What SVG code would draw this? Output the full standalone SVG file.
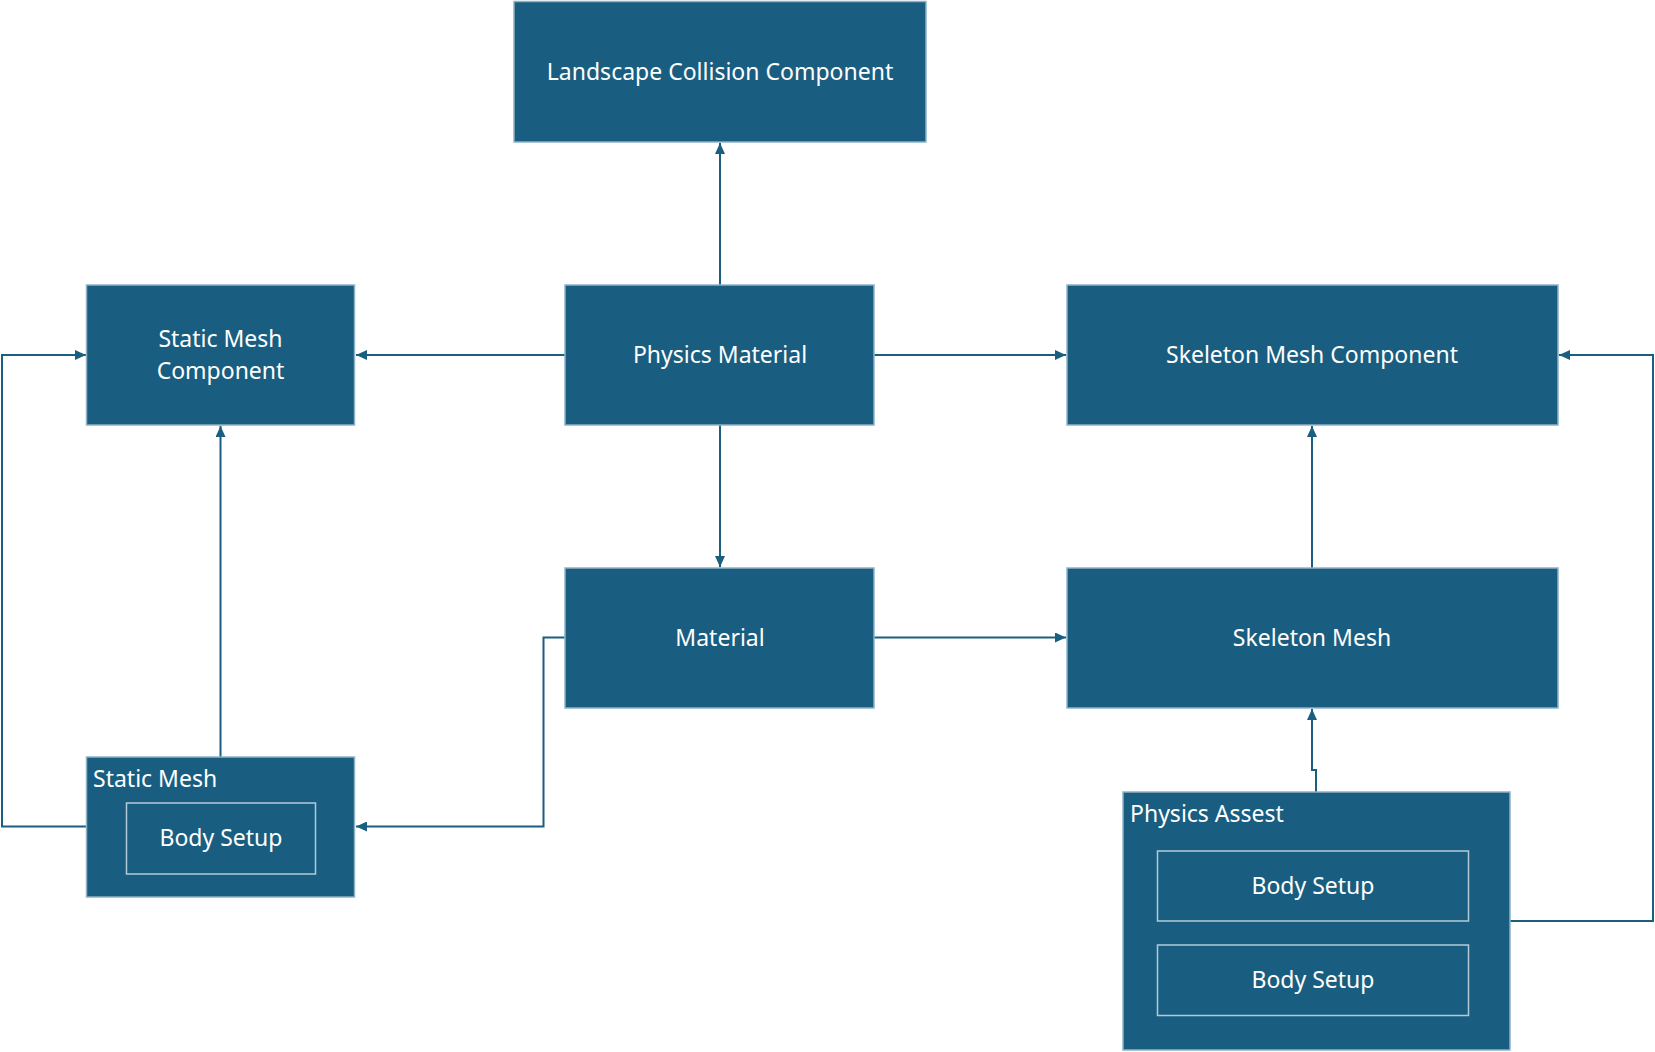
<svg xmlns="http://www.w3.org/2000/svg" width="1655" height="1052" viewBox="0 0 1655 1052">
  <style>
    .box { fill: #195E80; stroke: #8FB2C6; stroke-width: 1.5; }
    .inner { fill: none; stroke: #B3CBD8; stroke-width: 1.5; }
    .lbl { fill: #FFFFFF; font-family: "Noto Sans", "Open Sans", "Liberation Sans", sans-serif; font-size: 23px; text-anchor: middle; }
    .lbl-l { text-anchor: start; }
    .conn { fill: none; stroke: #1A5E80; stroke-width: 2; }
  </style>
  <defs>
    <marker id="arr" markerUnits="userSpaceOnUse" markerWidth="12" markerHeight="10" refX="11" refY="5" orient="auto">
      <path d="M0,0 L11,5 L0,10 z" fill="#1A5E80"/>
    </marker>
  </defs>
  <rect width="1655" height="1052" fill="#FFFFFF"/>

  <g id="connectors">
    <path class="conn" d="M720,285 V143" marker-end="url(#arr)"/>
    <path class="conn" d="M565,355 H356" marker-end="url(#arr)"/>
    <path class="conn" d="M874,355 H1066" marker-end="url(#arr)"/>
    <path class="conn" d="M720,425 V567" marker-end="url(#arr)"/>
    <path class="conn" d="M874,637.5 H1066" marker-end="url(#arr)"/>
    <path class="conn" d="M565,637.5 H543.5 V826.5 H356" marker-end="url(#arr)"/>
    <path class="conn" d="M220.5,757 V426" marker-end="url(#arr)"/>
    <path class="conn" d="M86.5,826.5 H2 V355 H86" marker-end="url(#arr)"/>
    <path class="conn" d="M1312,568 V426" marker-end="url(#arr)"/>
    <path class="conn" d="M1316,792 V770 H1312 V709" marker-end="url(#arr)"/>
    <path class="conn" d="M1510,921 H1653 V355 H1559" marker-end="url(#arr)"/>
  </g>

  <g id="landscape-collision-component">
    <rect class="box" x="514" y="1.5" width="412" height="140.5"/>
    <text class="lbl" x="720" y="80">Landscape Collision Component</text>
  </g>

  <g id="static-mesh-component">
    <rect class="box" x="86.5" y="285" width="268" height="140"/>
    <text class="lbl" x="220.5" y="347">Static Mesh</text>
    <text class="lbl" x="220.5" y="379">Component</text>
  </g>

  <g id="physics-material">
    <rect class="box" x="565" y="285" width="309" height="140"/>
    <text class="lbl" x="720" y="363">Physics Material</text>
  </g>

  <g id="skeleton-mesh-component">
    <rect class="box" x="1067" y="285" width="491" height="140"/>
    <text class="lbl" x="1312" y="363">Skeleton Mesh Component</text>
  </g>

  <g id="material">
    <rect class="box" x="565" y="568" width="309" height="140"/>
    <text class="lbl" x="720" y="646">Material</text>
  </g>

  <g id="skeleton-mesh">
    <rect class="box" x="1067" y="568" width="491" height="140"/>
    <text class="lbl" x="1312" y="646">Skeleton Mesh</text>
  </g>

  <g id="static-mesh">
    <rect class="box" x="86.5" y="757" width="268" height="140"/>
    <text class="lbl lbl-l" x="93" y="787">Static Mesh</text>
    <g id="static-mesh-body-setup">
      <rect class="inner" x="126.5" y="803" width="189" height="71"/>
      <text class="lbl" x="221" y="846">Body Setup</text>
    </g>
  </g>

  <g id="physics-assest">
    <rect class="box" x="1123" y="792" width="387" height="258"/>
    <text class="lbl lbl-l" x="1130" y="822">Physics Assest</text>
    <g id="physics-assest-body-setup-1">
      <rect class="inner" x="1157.5" y="851" width="311" height="70"/>
      <text class="lbl" x="1313" y="894">Body Setup</text>
    </g>
    <g id="physics-assest-body-setup-2">
      <rect class="inner" x="1157.5" y="945" width="311" height="70.5"/>
      <text class="lbl" x="1313" y="988">Body Setup</text>
    </g>
  </g>
</svg>
